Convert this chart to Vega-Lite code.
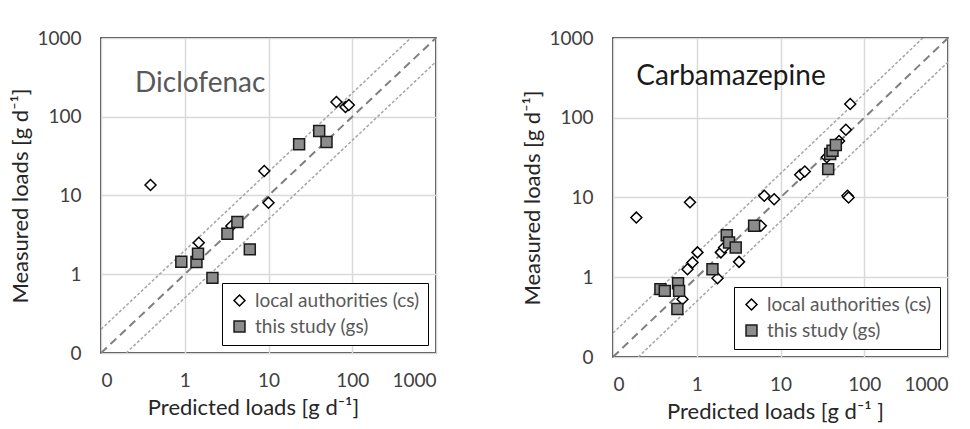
{
  "$schema": "https://vega.github.io/schema/vega-lite/v6.json",
  "padding": {"left": 9, "top": 28, "right": 5, "bottom": 5},
  "background": "white",
  "spacing": 84,
  "config": {
    "font": "Lato",
    "view": {"stroke": "black", "strokeWidth": 1.5},
    "axis": {
      "grid": true, "gridColor": "#d9d9d9", "gridWidth": 1.5,
      "domain": false, "ticks": false, "tickSize": 0,
      "labelFont": "Lato", "labelFontSize": 19, "labelColor": "#404040",
      "titleFont": "Lato", "titleFontSize": 22, "titleFontWeight": "normal", "titleColor": "#262626"
    },
    "axisX": {"labelPadding": 18, "titlePadding": 7},
    "axisY": {"labelPadding": 20, "titlePadding": 4},
    "legend": {
      "orient": "bottom-right", "offset": 8, "strokeColor": "black", "fillColor": "white",
      "padding": 8, "labelFont": "Lato", "labelFontSize": 19, "labelColor": "#595959", "labelOffset": 6, "labelLimit": 300,
      "symbolStrokeWidth": 1.5, "symbolSize": 120, "rowPadding": 6
    }
  },
  "datasets": {
    "points": [
      {"substance": "Diclofenac", "series": "local authorities (cs)", "predicted": 0.39, "measured": 13.6},
      {"substance": "Diclofenac", "series": "local authorities (cs)", "predicted": 1.47, "measured": 2.51},
      {"substance": "Diclofenac", "series": "local authorities (cs)", "predicted": 3.6, "measured": 4.1},
      {"substance": "Diclofenac", "series": "local authorities (cs)", "predicted": 8.9, "measured": 20.5},
      {"substance": "Diclofenac", "series": "local authorities (cs)", "predicted": 10.0, "measured": 8.1},
      {"substance": "Diclofenac", "series": "local authorities (cs)", "predicted": 64.7, "measured": 154},
      {"substance": "Diclofenac", "series": "local authorities (cs)", "predicted": 83, "measured": 133},
      {"substance": "Diclofenac", "series": "local authorities (cs)", "predicted": 91, "measured": 141},
      {"substance": "Diclofenac", "series": "this study (gs)", "predicted": 0.91, "measured": 1.44},
      {"substance": "Diclofenac", "series": "this study (gs)", "predicted": 1.38, "measured": 1.43},
      {"substance": "Diclofenac", "series": "this study (gs)", "predicted": 1.44, "measured": 1.82},
      {"substance": "Diclofenac", "series": "this study (gs)", "predicted": 2.14, "measured": 0.90},
      {"substance": "Diclofenac", "series": "this study (gs)", "predicted": 3.23, "measured": 3.27},
      {"substance": "Diclofenac", "series": "this study (gs)", "predicted": 4.25, "measured": 4.61},
      {"substance": "Diclofenac", "series": "this study (gs)", "predicted": 5.98, "measured": 2.07},
      {"substance": "Diclofenac", "series": "this study (gs)", "predicted": 23.2, "measured": 44.7},
      {"substance": "Diclofenac", "series": "this study (gs)", "predicted": 40.3, "measured": 65.9},
      {"substance": "Diclofenac", "series": "this study (gs)", "predicted": 49.3, "measured": 47.7},
      {"substance": "Carbamazepine", "series": "local authorities (cs)", "predicted": 0.19, "measured": 5.6},
      {"substance": "Carbamazepine", "series": "local authorities (cs)", "predicted": 0.83, "measured": 8.7},
      {"substance": "Carbamazepine", "series": "local authorities (cs)", "predicted": 0.675, "measured": 0.53},
      {"substance": "Carbamazepine", "series": "local authorities (cs)", "predicted": 0.775, "measured": 1.26},
      {"substance": "Carbamazepine", "series": "local authorities (cs)", "predicted": 0.89, "measured": 1.53},
      {"substance": "Carbamazepine", "series": "local authorities (cs)", "predicted": 1.02, "measured": 2.05},
      {"substance": "Carbamazepine", "series": "local authorities (cs)", "predicted": 1.77, "measured": 0.97},
      {"substance": "Carbamazepine", "series": "local authorities (cs)", "predicted": 1.94, "measured": 2.05},
      {"substance": "Carbamazepine", "series": "local authorities (cs)", "predicted": 2.12, "measured": 2.36},
      {"substance": "Carbamazepine", "series": "local authorities (cs)", "predicted": 3.2, "measured": 1.56},
      {"substance": "Carbamazepine", "series": "local authorities (cs)", "predicted": 5.82, "measured": 4.42},
      {"substance": "Carbamazepine", "series": "local authorities (cs)", "predicted": 6.4, "measured": 10.5},
      {"substance": "Carbamazepine", "series": "local authorities (cs)", "predicted": 8.4, "measured": 9.5},
      {"substance": "Carbamazepine", "series": "local authorities (cs)", "predicted": 17.2, "measured": 19.3},
      {"substance": "Carbamazepine", "series": "local authorities (cs)", "predicted": 19.5, "measured": 21.2},
      {"substance": "Carbamazepine", "series": "local authorities (cs)", "predicted": 35.7, "measured": 31.9},
      {"substance": "Carbamazepine", "series": "local authorities (cs)", "predicted": 50, "measured": 51},
      {"substance": "Carbamazepine", "series": "local authorities (cs)", "predicted": 60.3, "measured": 70.6},
      {"substance": "Carbamazepine", "series": "local authorities (cs)", "predicted": 68, "measured": 149},
      {"substance": "Carbamazepine", "series": "local authorities (cs)", "predicted": 63, "measured": 10.5},
      {"substance": "Carbamazepine", "series": "local authorities (cs)", "predicted": 65, "measured": 10.0},
      {"substance": "Carbamazepine", "series": "this study (gs)", "predicted": 0.368, "measured": 0.71},
      {"substance": "Carbamazepine", "series": "this study (gs)", "predicted": 0.415, "measured": 0.675},
      {"substance": "Carbamazepine", "series": "this study (gs)", "predicted": 0.598, "measured": 0.84},
      {"substance": "Carbamazepine", "series": "this study (gs)", "predicted": 0.615, "measured": 0.675},
      {"substance": "Carbamazepine", "series": "this study (gs)", "predicted": 0.587, "measured": 0.40},
      {"substance": "Carbamazepine", "series": "this study (gs)", "predicted": 1.54, "measured": 1.26},
      {"substance": "Carbamazepine", "series": "this study (gs)", "predicted": 2.28, "measured": 3.37},
      {"substance": "Carbamazepine", "series": "this study (gs)", "predicted": 2.43, "measured": 2.73},
      {"substance": "Carbamazepine", "series": "this study (gs)", "predicted": 2.92, "measured": 2.36},
      {"substance": "Carbamazepine", "series": "this study (gs)", "predicted": 4.84, "measured": 4.42},
      {"substance": "Carbamazepine", "series": "this study (gs)", "predicted": 37.1, "measured": 22.7},
      {"substance": "Carbamazepine", "series": "this study (gs)", "predicted": 39.2, "measured": 35.1},
      {"substance": "Carbamazepine", "series": "this study (gs)", "predicted": 41.8, "measured": 38.5},
      {"substance": "Carbamazepine", "series": "this study (gs)", "predicted": 45.8, "measured": 45.4}
    ],
    "lines": [
      {"line": "1:1", "predicted": 0.1, "measured": 0.1},
      {"line": "1:1", "predicted": 1000, "measured": 1000},
      {"line": "2:1", "predicted": 0.1, "measured": 0.2},
      {"line": "2:1", "predicted": 500, "measured": 1000},
      {"line": "1:2", "predicted": 0.2, "measured": 0.1},
      {"line": "1:2", "predicted": 1000, "measured": 500}
    ],
    "labels": [
      {"substance": "Diclofenac", "label": "Diclofenac"},
      {"substance": "Carbamazepine", "label": "Carbamazepine"}
    ]
  },
  "resolve": {"scale": {"shape": "independent", "fill": "independent", "stroke": "independent"}, "legend": {"shape": "independent", "fill": "independent", "stroke": "independent"}},
  "hconcat": [
    {
      "width": 335, "height": 315,
      "layer": [
        {
          "data": {"name": "lines"},
          "transform": [{"filter": "datum.line !== '1:1'"}],
          "mark": {"type": "line", "stroke": "#a6a6a6", "strokeWidth": 1.5, "strokeDash": [3, 2], "clip": true},
          "encoding": {
            "x": {"field": "predicted", "type": "quantitative", "scale": {"type": "log", "domain": [0.1, 1000], "nice": false}, "axis": {"values": [0.1, 1, 10, 100, 1000], "format": "d", "title": "Predicted loads [g d⁻¹]", "titleX": 152}},
            "y": {"field": "measured", "type": "quantitative", "scale": {"type": "log", "domain": [0.1, 1000], "nice": false}, "axis": {"values": [0.1, 1, 10, 100, 1000], "format": "d", "title": "Measured loads [g d⁻¹]"}},
            "detail": {"field": "line"}
          }
        },
        {
          "data": {"name": "lines"},
          "transform": [{"filter": "datum.line === '1:1'"}],
          "mark": {"type": "line", "stroke": "#7f7f7f", "strokeWidth": 2, "strokeDash": [8, 5], "clip": true},
          "encoding": {
            "x": {"field": "predicted", "type": "quantitative"},
            "y": {"field": "measured", "type": "quantitative"}
          }
        },
        {
          "data": {"name": "points"},
          "transform": [{"filter": "datum.substance === 'Diclofenac'"}],
          "mark": {"type": "point", "filled": true, "strokeWidth": 1.5, "opacity": 1, "size": 120},
          "encoding": {
            "x": {"field": "predicted", "type": "quantitative"},
            "y": {"field": "measured", "type": "quantitative"},
            "shape": {"field": "series", "type": "nominal", "scale": {"domain": ["local authorities (cs)", "this study (gs)"], "range": ["diamond", "square"]}, "title": null, "legend": {"orient": "bottom-right", "labelFontSize": 19, "labelLimit": 300}},
            "fill": {"field": "series", "type": "nominal", "scale": {"domain": ["local authorities (cs)", "this study (gs)"], "range": ["white", "#8c8c8c"]}, "title": null, "legend": {"orient": "bottom-right", "labelFontSize": 19, "labelLimit": 300}},
            "stroke": {"field": "series", "type": "nominal", "scale": {"domain": ["local authorities (cs)", "this study (gs)"], "range": ["black", "#1a1a1a"]}, "title": null, "legend": {"orient": "bottom-right", "labelFontSize": 19, "labelLimit": 300}}
          }
        },
        {
          "data": {"name": "labels"},
          "transform": [{"filter": "datum.substance === 'Diclofenac'"}],
          "mark": {"type": "text", "align": "left", "baseline": "middle", "font": "Lato", "fontSize": 28, "fill": "#595959"},
          "encoding": {
            "x": {"datum": 0.255, "type": "quantitative"},
            "y": {"datum": 260, "type": "quantitative"},
            "text": {"field": "label"}
          }
        }
      ]
    },
    {
      "width": 335, "height": 319,
      "layer": [
        {
          "data": {"name": "lines"},
          "transform": [{"filter": "datum.line !== '1:1'"}],
          "mark": {"type": "line", "stroke": "#a6a6a6", "strokeWidth": 1.5, "strokeDash": [3, 2], "clip": true},
          "encoding": {
            "x": {"field": "predicted", "type": "quantitative", "scale": {"type": "log", "domain": [0.1, 1000], "nice": false}, "axis": {"values": [0.1, 1, 10, 100, 1000], "format": "d", "title": "Predicted loads [g d⁻¹ ]", "titleX": 162}},
            "y": {"field": "measured", "type": "quantitative", "scale": {"type": "log", "domain": [0.1, 1000], "nice": false}, "axis": {"values": [0.1, 1, 10, 100, 1000], "format": "d", "title": "Measured loads [g d⁻¹]"}},
            "detail": {"field": "line"}
          }
        },
        {
          "data": {"name": "lines"},
          "transform": [{"filter": "datum.line === '1:1'"}],
          "mark": {"type": "line", "stroke": "#7f7f7f", "strokeWidth": 2, "strokeDash": [8, 5], "clip": true},
          "encoding": {
            "x": {"field": "predicted", "type": "quantitative"},
            "y": {"field": "measured", "type": "quantitative"}
          }
        },
        {
          "data": {"name": "points"},
          "transform": [{"filter": "datum.substance === 'Carbamazepine'"}],
          "mark": {"type": "point", "filled": true, "strokeWidth": 1.5, "opacity": 1, "size": 120},
          "encoding": {
            "x": {"field": "predicted", "type": "quantitative"},
            "y": {"field": "measured", "type": "quantitative"},
            "shape": {"field": "series", "type": "nominal", "scale": {"domain": ["local authorities (cs)", "this study (gs)"], "range": ["diamond", "square"]}, "title": null, "legend": {"orient": "bottom-right", "labelFontSize": 19, "labelLimit": 300}},
            "fill": {"field": "series", "type": "nominal", "scale": {"domain": ["local authorities (cs)", "this study (gs)"], "range": ["white", "#8c8c8c"]}, "title": null, "legend": {"orient": "bottom-right", "labelFontSize": 19, "labelLimit": 300}},
            "stroke": {"field": "series", "type": "nominal", "scale": {"domain": ["local authorities (cs)", "this study (gs)"], "range": ["black", "#1a1a1a"]}, "title": null, "legend": {"orient": "bottom-right", "labelFontSize": 19, "labelLimit": 300}}
          }
        },
        {
          "data": {"name": "labels"},
          "transform": [{"filter": "datum.substance === 'Carbamazepine'"}],
          "mark": {"type": "text", "align": "left", "baseline": "middle", "font": "Lato", "fontSize": 28, "fill": "#1a1a1a"},
          "encoding": {
            "x": {"datum": 0.19, "type": "quantitative"},
            "y": {"datum": 324, "type": "quantitative"},
            "text": {"field": "label"}
          }
        }
      ]
    }
  ]
}
